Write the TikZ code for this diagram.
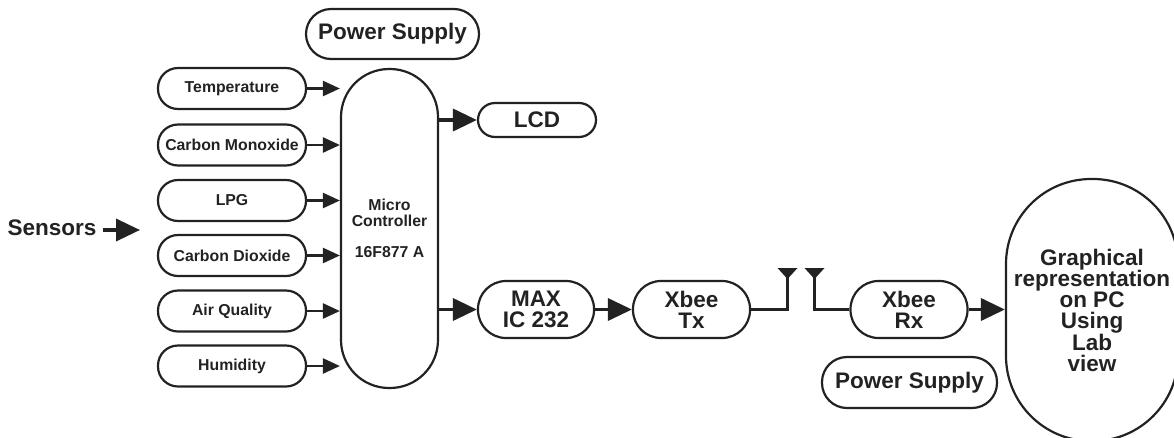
\documentclass[tikz,border=0pt]{standalone}
\usepackage{fontspec}
\setmainfont{Liberation Sans}
\usetikzlibrary{arrows.meta}
\definecolor{ink}{HTML}{222222}
\tikzset{
  pill/.style={draw=ink,line width=2.2pt,rectangle,inner sep=0pt,text=ink,align=center,font=\bfseries},
  smalltxt/.style={font=\fontsize{15.8}{15.5}\selectfont\bfseries},
  bigtxt/.style={font=\fontsize{22.5}{21}\selectfont\bfseries},
  sensorbox/.style={pill,smalltxt,minimum width=148pt,minimum height=41pt,rounded corners=20pt},
  smallarrow/.style={draw=ink,line width=2.4pt,-{Triangle[length=17pt,width=15pt]},shorten >=0pt},
  bigarrow/.style={draw=ink,line width=3.6pt,-{Triangle[length=24pt,width=22pt]}},
  antline/.style={draw=ink,line width=3pt},
  anthead/.style={fill=ink,draw=none},
  plain/.style={text=ink,inner sep=0pt}
}
\begin{document}
\begin{tikzpicture}[x=1pt,y=-1pt]
\useasboundingbox (0,0) rectangle (1174,437);
\node[pill,bigtxt,minimum width=173pt,minimum height=50pt,rounded corners=25pt] (psa) at (392.5,34) {Power Supply};
\node[sensorbox] (temp) at (232,88.5) {Temperature};
\node[sensorbox] (co) at (232,145) {Carbon Monoxide};
\node[sensorbox] (lpg) at (232,200.5) {LPG};
\node[sensorbox] (co2) at (232,255.5) {Carbon Dioxide};
\node[sensorbox] (air) at (232,311) {Air Quality};
\node[sensorbox] (hum) at (232,366) {Humidity};
\node[pill,smalltxt,minimum width=97pt,minimum height=319pt,rounded corners=48pt] (mc) at (389.5,228.5) {Micro\\Controller\\[15.5pt]16F877 A};
\node[pill,bigtxt,minimum width=118pt,minimum height=34pt,rounded corners=17pt] (lcd) at (537,120) {LCD};
\node[pill,bigtxt,minimum width=116pt,minimum height=57pt,rounded corners=28pt] (max) at (536,309.5) {MAX\\IC 232};
\node[pill,bigtxt,minimum width=117pt,minimum height=57pt,rounded corners=28pt] (tx) at (691.5,309.5) {Xbee\\Tx};
\node[pill,bigtxt,minimum width=117pt,minimum height=57pt,rounded corners=28pt] (rx) at (909,309.5) {Xbee\\Rx};
\node[pill,bigtxt,minimum width=175pt,minimum height=51pt,rounded corners=25pt] (psb) at (909.5,382.5) {Power Supply};
\node[pill,bigtxt,minimum width=172pt,minimum height=262pt,rounded corners=85pt] (pc) at (1092,310) {Graphical\\representation\\on PC\\Using\\Lab\\view};
\node[plain,bigtxt] (sens) at (52,228) {Sensors};
\coordinate (sa) at (103,230);
\coordinate (sb) at (140,230);
\draw[bigarrow] (sa) -- (sb);
\foreach \n in {temp,co,lpg,co2,air,hum}
  \draw[smallarrow] (\n.east) -- (mc.west |- \n.east);
\draw[bigarrow] (mc.east |- lcd.west) -- (lcd.west);
\draw[bigarrow] (mc.east |- max.west) -- (max.west);
\draw[bigarrow] (max.east) -- (tx.west);
\draw[bigarrow] (rx.east) -- (pc.west |- rx.east);
\coordinate (anta) at (787.5,276);
\coordinate (antb) at (814.5,276);
\draw[antline] (tx.east) -| (anta);
\draw[antline] (rx.west) -| (antb);
\fill[anthead] (777.5,268) -- (797.5,268) -- (787.5,279) -- cycle;
\fill[anthead] (804.5,268) -- (824.5,268) -- (814.5,279) -- cycle;
\end{tikzpicture}
\end{document}
